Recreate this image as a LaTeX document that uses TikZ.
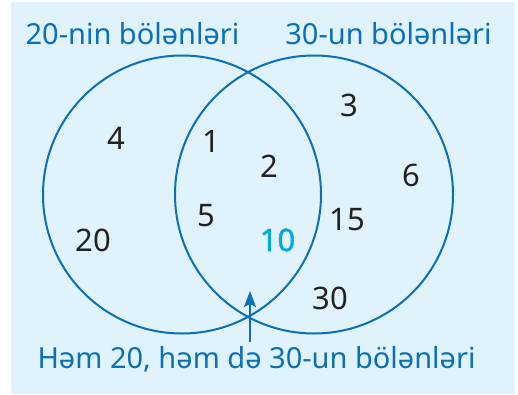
\documentclass[tikz,border=0pt]{standalone}
\usepackage{fontspec}
\setmainfont{Noto Sans}
\newfontfamily\tenfont[FakeBold=1.2]{Noto Sans}
\usetikzlibrary{arrows.meta}
\definecolor{bgblue}{HTML}{E0F2FC}
\definecolor{lineblue}{HTML}{0A70B8}
\definecolor{cyanten}{HTML}{00A8E8}
\definecolor{numblack}{HTML}{222222}
\tikzset{
  setcircle/.style={circle, draw=lineblue, line width=2pt, minimum size=278pt, inner sep=0pt},
  num/.style={text=numblack, font=\fontsize{31}{34}\selectfont, inner sep=0pt},
  title/.style={text=lineblue, font=\fontsize{29}{32}\selectfont, inner sep=0pt, anchor=base},
}
\begin{document}
\begin{tikzpicture}[x=1pt,y=-1pt]
\useasboundingbox (0,0) rectangle (518,395);
\fill[bgblue] (11,2) rectangle (515,394);
\node[setcircle] (A) at (182,194.5) {};
\node[setcircle] (B) at (314,194.5) {};
\node[title] (tA) at (132.5,45) {20-nin bölənləri};
\node[title] (tB) at (388.5,45) {30-un bölənləri};
\node[title] (tC) at (256.5,368) {Həm 20, həm də 30-un bölənləri};
\node[num] (n4) at (116,138.5) {4};
\node[num] (n20) at (93.5,240.5) {20};
\node[num] (n1) at (211,141.5) {1};
\node[num] (n2) at (269.5,166.5) {2};
\node[num] (n5) at (206,215.5) {5};
\node[num, text=cyanten, font=\tenfont\fontsize{31}{34}\selectfont] (n10) at (277.5,240) {10};
\node[num] (n3) at (349.5,105) {3};
\node[num] (n6) at (411,175) {6};
\node[num] (n15) at (347,220) {15};
\node[num] (n30) at (330,298) {30};
\coordinate (arrS) at (250,342);
\coordinate (arrE) at (250,291);
\draw[lineblue, line width=1.8pt, -{Stealth[length=16pt,width=12pt,inset=3pt]}] (arrS) -- (arrE);
\end{tikzpicture}
\end{document}
